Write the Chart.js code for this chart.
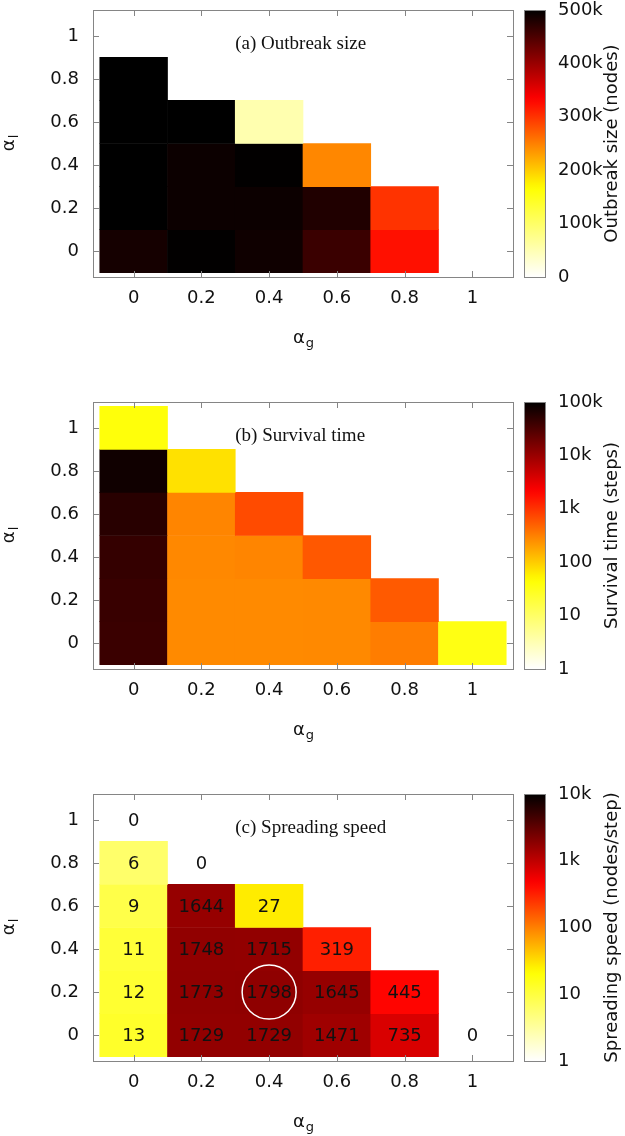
<!DOCTYPE html>
<html>
<head>
<meta charset="utf-8">
<script src="https://cdn.jsdelivr.net/npm/chart.js@4/dist/chart.umd.min.js"></script>
<style>
  html, body { margin: 0; padding: 0; background: #fff; }
  canvas { position: absolute; left: 0; }
</style>
</head>
<body>
<canvas id="chartA" width="625" height="392" style="top:0px"></canvas>
<canvas id="chartB" width="625" height="392" style="top:392px"></canvas>
<canvas id="chartC" width="625" height="352" style="top:784px"></canvas>
<script>
// grid of parameters
const alphaG = [0, 0.2, 0.4, 0.6, 0.8, 1];
const alphaL = [0, 0.2, 0.4, 0.6, 0.8, 1];
const axisTicks = [0, 0.2, 0.4, 0.6, 0.8, 1];
const axisTickLabels = ['0', '0.2', '0.4', '0.6', '0.8', '1'];

// rows = alpha_l (0 -> 1), columns = alpha_g (0 -> 1), null = no run
const outbreakSize = [
  [486000, 499000, 490000, 462000, 323000, null],
  [500000, 492000, 492000, 479000, 300000, null],
  [500000, 492000, 499000, 245000, null, null],
  [500000, 500000, 52000, null, null, null],
  [500000, null, null, null, null, null],
  [null, null, null, null, null, null]
];
const survivalTime = [
  [42000, 270, 270, 275, 330, 35],
  [43000, 270, 270, 275, 560, null],
  [46000, 280, 290, 570, null, null],
  [55000, 290, 700, null, null, null],
  [79000, 73, null, null, null, null],
  [40, null, null, null, null, null]
];
const spreadingSpeed = [
  [13, 1729, 1729, 1471, 735, 0],
  [12, 1773, 1798, 1645, 445, null],
  [11, 1748, 1715, 319, null, null],
  [9, 1644, 27, null, null, null],
  [6, 0, null, null, null, null],
  [0, null, null, null, null, null]
];
const highlightCell = [0.4, 0.2]; // alpha_g, alpha_l

const outbreakTicks = [0, 100000, 200000, 300000, 400000, 500000];
const survivalTicks = [1, 10, 100, 1000, 10000, 100000];
const speedTicks = [1, 10, 100, 1000, 10000];

Chart.defaults.font.family = 'DejaVu Sans';
Chart.defaults.color = '#111';

const tickFont = { family: 'DejaVu Sans', size: 18, lineHeight: 1.1 };

function kLabel(v) {
  return v >= 1000 ? (v / 1000) + 'k' : String(v);
}

// reversed "hot" palette: 0 -> white, 1 -> black
function hot(f) {
  f = Math.max(0, Math.min(1, f));
  const x = 1 - f;
  const c = t => Math.round(255 * Math.max(0, Math.min(1, t)));
  return 'rgb(' + c(3 * x) + ',' + c(3 * x - 1) + ',' + c(3 * x - 2) + ')';
}

function cells(grid) {
  const pts = [];
  alphaL.forEach((l, i) => {
    alphaG.forEach((g, j) => {
      const v = grid[i][j];
      if (v !== null) pts.push({ x: g, y: [l - 0.1, l + 0.1], v: v });
    });
  });
  return pts;
}

function drawSub(ctx, base, sub, x, y, rot) {
  ctx.save();
  ctx.translate(x, y);
  ctx.rotate(rot);
  ctx.fillStyle = '#111';
  ctx.textBaseline = 'alphabetic';
  ctx.textAlign = 'left';
  ctx.font = '18px "DejaVu Sans"';
  const wb = ctx.measureText(base).width;
  ctx.font = '13px "DejaVu Sans"';
  const ws = ctx.measureText(sub).width;
  const x0 = -(wb + ws) / 2;
  ctx.font = '18px "DejaVu Sans"';
  ctx.fillText(base, x0, 0);
  ctx.font = '13px "DejaVu Sans"';
  ctx.fillText(sub, x0 + wb + 1, 4);
  ctx.restore();
}

function panelPlugin(cfg) {
  return {
    id: 'panel',
    afterDatasetsDraw(chart) {
      const ctx = chart.ctx;
      const xs = chart.scales.x, ys = chart.scales.y;
      if (cfg.showValues) {
        const meta = chart.getDatasetMeta(0);
        ctx.save();
        ctx.font = '18px "DejaVu Sans"';
        ctx.fillStyle = '#111';
        ctx.textAlign = 'center';
        ctx.textBaseline = 'middle';
        meta.data.forEach((el, i) => {
          const p = el.getCenterPoint();
          ctx.fillText(String(chart.data.datasets[0].data[i].v), p.x, p.y + 1);
        });
        ctx.restore();
      }
      if (cfg.circle) {
        ctx.save();
        ctx.strokeStyle = '#fff';
        ctx.lineWidth = 1.5;
        ctx.beginPath();
        ctx.arc(xs.getPixelForValue(cfg.circle[0]), ys.getPixelForValue(cfg.circle[1]), 27, 0, Math.PI * 2);
        ctx.stroke();
        ctx.restore();
      }
    },
    afterDraw(chart) {
      const ctx = chart.ctx;
      const a = chart.chartArea;
      const xs = chart.scales.x, ys = chart.scales.y, cb = chart.scales.cb;
      ctx.save();
      // frame with inward ticks
      ctx.strokeStyle = '#858585';
      ctx.lineWidth = 1;
      ctx.strokeRect(Math.round(a.left) + 0.5, Math.round(a.top) + 0.5, Math.round(a.right - a.left), Math.round(a.bottom - a.top));
      ctx.beginPath();
      axisTicks.forEach(v => {
        const px = Math.round(xs.getPixelForValue(v)) + 0.5;
        ctx.moveTo(px, a.bottom); ctx.lineTo(px, a.bottom - 6);
        ctx.moveTo(px, a.top); ctx.lineTo(px, a.top + 6);
        const py = Math.round(ys.getPixelForValue(v)) + 0.5;
        ctx.moveTo(a.left, py); ctx.lineTo(a.left + 6, py);
        ctx.moveTo(a.right, py); ctx.lineTo(a.right - 6, py);
      });
      ctx.stroke();

      // colour bar
      const bx = Math.round(cb.left) + 11, bw = 21;
      const grad = ctx.createLinearGradient(0, cb.bottom, 0, cb.top);
      for (let i = 0; i <= 40; i++) grad.addColorStop(i / 40, hot(i / 40));
      ctx.fillStyle = grad;
      ctx.fillRect(bx, cb.top, bw, cb.bottom - cb.top);
      ctx.strokeRect(bx + 0.5, Math.round(cb.top) + 0.5, bw, Math.round(cb.bottom - cb.top));

      // panel title
      ctx.fillStyle = '#111';
      ctx.font = '19px "Liberation Serif"';
      ctx.textAlign = 'left';
      ctx.textBaseline = 'middle';
      ctx.fillText(cfg.title, xs.getPixelForValue(0.3), ys.getPixelForValue(0.96));

      // colour bar title
      ctx.save();
      ctx.translate(612, (a.top + a.bottom) / 2);
      ctx.rotate(-Math.PI / 2);
      ctx.font = '18px "DejaVu Sans"';
      ctx.textAlign = 'center';
      ctx.textBaseline = 'middle';
      ctx.fillText(cfg.cbTitle, 0, 0);
      ctx.restore();

      // axis titles
      drawSub(ctx, 'α', 'g', (a.left + a.right) / 2, a.bottom + 66, 0);
      drawSub(ctx, 'α', 'l', 14, (a.top + a.bottom) / 2, -Math.PI / 2);
      ctx.restore();
    }
  };
}

function makePanel(id, cfg) {
  const canvas = document.getElementById(id);
  const H = canvas.height;
  return new Chart(canvas, {
    type: 'bar',
    data: {
      datasets: [{
        data: cells(cfg.grid),
        xAxisID: 'x',
        yAxisID: 'y',
        backgroundColor: c => {
          const v = c.raw ? c.raw.v : 0;
          const f = cfg.frac(v);
          return f === null ? 'rgba(0,0,0,0)' : hot(f);
        },
        borderWidth: 0,
        barPercentage: 1,
        categoryPercentage: 1,
        grouped: false
      }]
    },
    options: {
      responsive: false,
      animation: false,
      events: [],
      layout: { padding: { top: 10, left: 0, right: 0, bottom: 0 } },
      plugins: { legend: { display: false }, tooltip: { enabled: false } },
      scales: {
        x: {
          type: 'linear',
          min: -0.12, max: 1.12,
          offset: false,
          grid: { display: false, drawTicks: true, tickLength: 11 },
          border: { display: false },
          ticks: {
            padding: 0, maxRotation: 0, autoSkip: false, font: tickFont,
            callback: (v, i) => axisTickLabels[i]
          },
          afterBuildTicks: s => { s.ticks = axisTicks.map(v => ({ value: v })); },
          afterFit: s => { s.height = H - 277; }
        },
        y: {
          type: 'linear',
          position: 'left',
          min: -0.12, max: 1.12,
          grid: { display: false, drawTicks: true, tickLength: 14 },
          border: { display: false },
          ticks: {
            padding: 0, autoSkip: false, font: tickFont,
            callback: (v, i) => axisTickLabels[i]
          },
          afterBuildTicks: s => { s.ticks = axisTicks.map(v => ({ value: v })); },
          afterFit: s => { s.width = 93; }
        },
        cb: {
          type: cfg.cbType,
          position: 'right',
          display: true,
          min: cfg.cbTicks[0], max: cfg.cbTicks[cfg.cbTicks.length - 1],
          grid: { display: false, drawTicks: true, tickLength: 45 },
          border: { display: false },
          ticks: {
            padding: 0, autoSkip: false, font: tickFont,
            callback: v => kLabel(v)
          },
          afterBuildTicks: s => { s.ticks = cfg.cbTicks.map(v => ({ value: v })); },
          afterFit: s => { s.width = 112; }
        }
      }
    },
    plugins: [panelPlugin(cfg)]
  });
}

makePanel('chartA', {
  grid: outbreakSize,
  cbType: 'linear',
  cbTicks: outbreakTicks,
  frac: v => v / outbreakTicks[outbreakTicks.length - 1],
  title: '(a) Outbreak size',
  cbTitle: 'Outbreak size (nodes)'
});

makePanel('chartB', {
  grid: survivalTime,
  cbType: 'logarithmic',
  cbTicks: survivalTicks,
  frac: v => v > 0 ? Math.log10(v) / Math.log10(survivalTicks[survivalTicks.length - 1]) : null,
  title: '(b) Survival time',
  cbTitle: 'Survival time (steps)'
});

makePanel('chartC', {
  grid: spreadingSpeed,
  cbType: 'logarithmic',
  cbTicks: speedTicks,
  frac: v => v > 0 ? Math.log10(v) / Math.log10(speedTicks[speedTicks.length - 1]) : null,
  title: '(c) Spreading speed',
  cbTitle: 'Spreading speed (nodes/step)',
  showValues: true,
  circle: highlightCell
});
</script>
</body>
</html>
